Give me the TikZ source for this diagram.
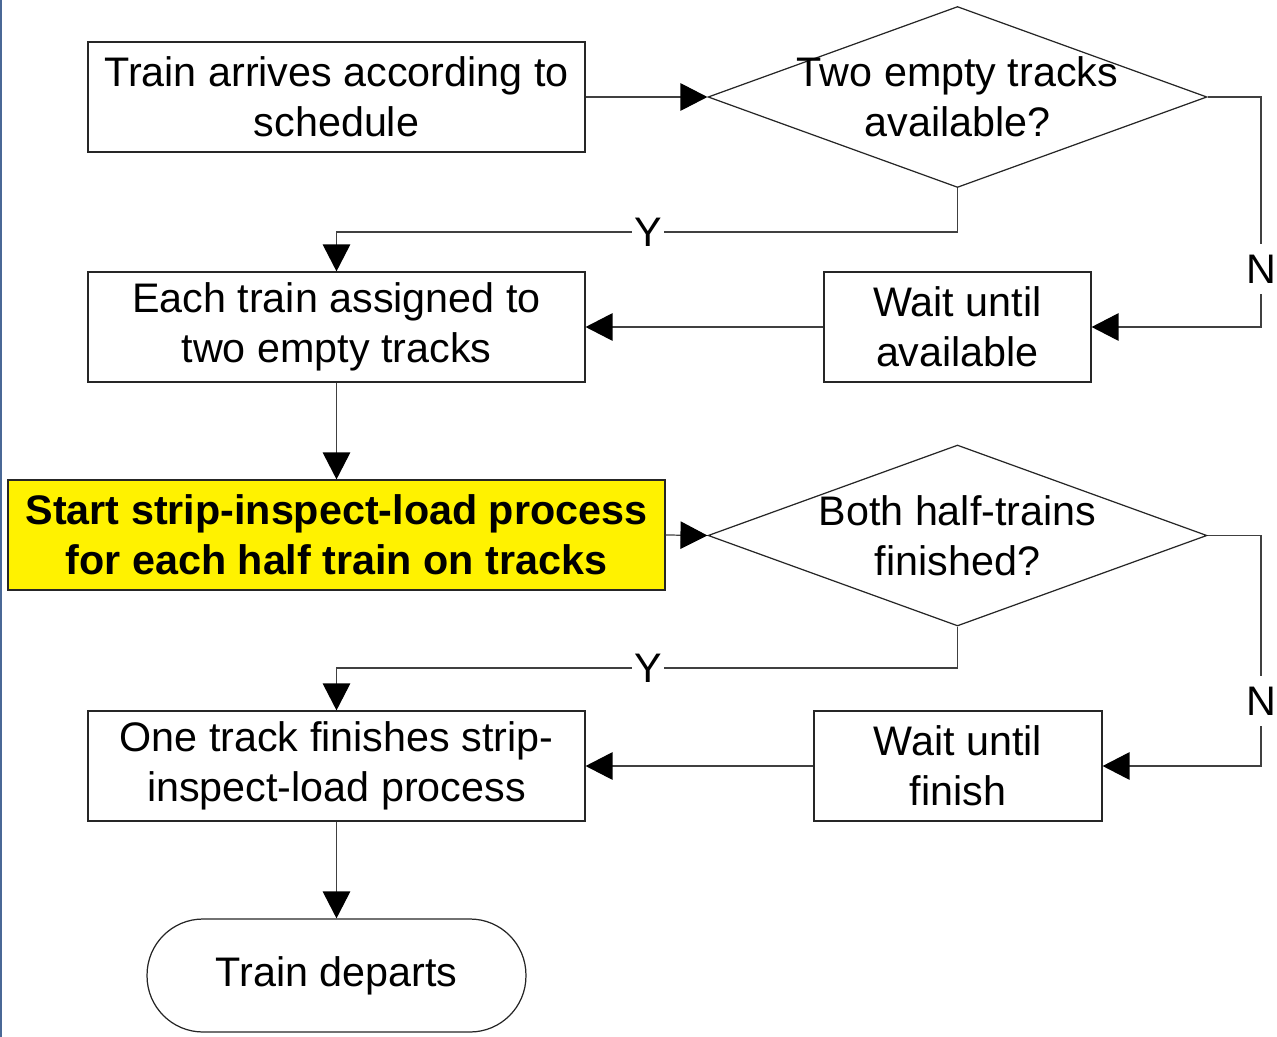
\documentclass[tikz,border=0pt]{standalone}
\usepackage{fontspec}
\setmainfont{Liberation Sans}
\usetikzlibrary{arrows.meta,shapes.geometric}
\begin{document}
\begin{tikzpicture}[x=0.02cm,y=-0.02cm,
  every node/.style={font=\fontsize{23.5}{28.3}\selectfont},
  box/.style={draw=black!85,line width=0.7pt,rectangle,inner sep=0pt,align=center,minimum height=2.2cm},
  dia/.style={draw=black!85,line width=0.7pt,diamond,inner sep=0pt,minimum width=9.98cm,minimum height=3.62cm},
  term/.style={draw=black!85,line width=0.7pt,rectangle,rounded corners=1.12cm,inner sep=0pt,minimum width=7.58cm,minimum height=2.26cm},
  arr/.style={draw=black!75,line width=0.7pt,-{Triangle[length=0.54cm,width=0.55cm,color=black]}},
  lbl/.style={fill=white,inner xsep=1.5pt,inner ysep=6pt}
]
\useasboundingbox (0,0) rectangle (1277,1037);
\draw[color={rgb,255:red,74;green,104;blue,150},line width=1.2pt] (1,0) -- (1,1037);

\node[box,minimum width=9.94cm] (b1) at (336.5,97) {Train arrives according to\\schedule};
\node[dia,label={[align=center]center:Two empty tracks\\available?}] (d1) at (957.5,97) {};
\node[box,minimum width=9.94cm] (b2) at (336.5,327) {Each train assigned to\\two empty tracks};
\node[box,minimum width=5.34cm] (w1) at (957.5,327) {Wait until\\available};
\node[box,minimum width=13.14cm,fill=yellow,font=\fontsize{23.5}{28.3}\selectfont\bfseries] (b3) at (336.5,535) {Start strip-inspect-load process\\for each half train on tracks};
\node[dia,label={[align=center]center:Both half-trains\\finished?}] (d2) at (957.5,535.5) {};
\node[box,minimum width=9.94cm] (b4) at (336.5,766) {One track finishes strip-\\inspect-load process};
\node[box,minimum width=5.76cm] (w2) at (958,766) {Wait until\\finish};
\node[term] (t) at (336.5,975.5) {Train departs};

\draw[arr] (b1.east) -- (d1.west);
\draw[arr] (d1.south) -- (957.5,232) -- (336.5,232) -- (b2.north);
\node[lbl] (y1) at (648,232) {Y};
\draw[arr] (d1.east) -- (1261,97) -- (1261,327) -- (w1.east);
\node[lbl] (n1) at (1261,269) {N};
\draw[arr] (w1.west) -- (b2.east);
\draw[arr] (b2.south) -- (b3.north);
\draw[arr] (b3.east) -- (d2.west);
\draw[arr] (d2.south) -- (957.5,668) -- (336.5,668) -- (b4.north);
\node[lbl] (y2) at (648,668) {Y};
\draw[arr] (d2.east) -- (1261,535.5) -- (1261,766) -- (w2.east);
\node[lbl] (n2) at (1261,701) {N};
\draw[arr] (w2.west) -- (b4.east);
\draw[arr] (b4.south) -- (t.north);
\end{tikzpicture}
\end{document}
